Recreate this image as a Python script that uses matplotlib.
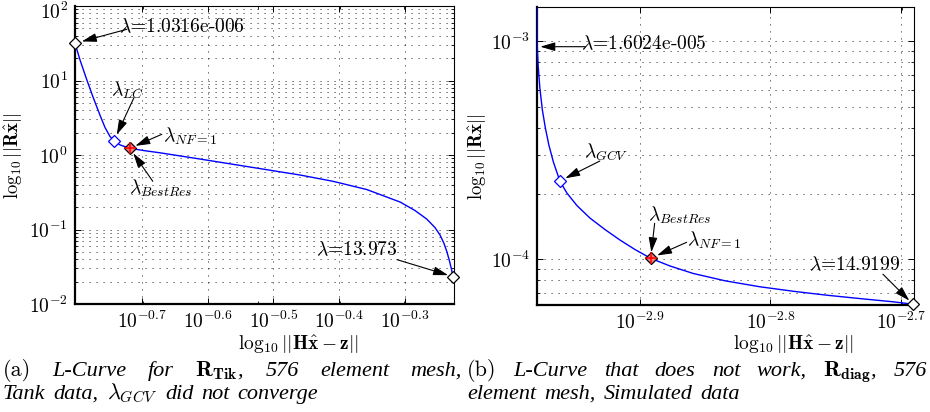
import matplotlib
matplotlib.use("Agg")
import matplotlib.pyplot as plt
from matplotlib.ticker import FixedLocator, FixedFormatter, NullFormatter
from matplotlib.transforms import ScaledTranslation

plt.rcParams["mathtext.fontset"] = "cm"
plt.rcParams["font.family"] = "serif"
plt.rcParams["font.serif"] = ["cmr10"]
plt.rcParams["axes.formatter.use_mathtext"] = True

# ---- (a) Tikhonov L-curve, tank data ----
tik_residual = [0.1578, 0.1606, 0.1644, 0.1682, 0.1722, 0.1753, 0.1784, 0.1809,
                0.1846, 0.1912, 0.2015, 0.2126, 0.2445, 0.2913, 0.3471, 0.3897,
                0.4385, 0.4929, 0.5194, 0.5411, 0.5570, 0.5670, 0.5750, 0.5810,
                0.5861, 0.5902, 0.5933]
tik_seminorm = [31.6, 18.85, 10.31, 5.91, 3.44, 2.34, 1.77, 1.56,
                1.37, 1.23, 1.142, 1.070, 0.883, 0.690, 0.539, 0.4436,
                0.3442, 0.2339, 0.1799, 0.1383, 0.1064, 0.0844, 0.0649, 0.0499,
                0.0378, 0.0295, 0.0233]
tik_idx = {"start": 0, "lc": 7, "nf": 9, "best": 9, "end": 26}
tik_xlim = (0.1578, 0.5955)
tik_ylim = (1e-2, 1e2)
tik_xticks = [-0.7, -0.6, -0.5, -0.4, -0.3]
tik_yticks = [-2, -1, 0, 1, 2]

# ---- (b) diagonal prior L-curve, simulated data ----
diag_residual = [1.0500e-3, 1.0503e-3, 1.0520e-3, 1.0551e-3, 1.0598e-3, 1.0654e-3,
                 1.0720e-3, 1.0806e-3, 1.0930e-3, 1.1066e-3, 1.1263e-3, 1.1524e-3,
                 1.1834e-3, 1.2152e-3, 1.2478e-3, 1.2829e-3, 1.3273e-3, 1.3830e-3,
                 1.4626e-3, 1.5558e-3, 1.6550e-3, 1.7500e-3, 1.8560e-3, 1.9672e-3,
                 2.0378e-3]
diag_seminorm = [1.60e-3, 9.446e-4, 7.702e-4, 6.105e-4, 4.840e-4, 4.003e-4,
                 3.344e-4, 2.794e-4, 2.286e-4, 2.014e-4, 1.765e-4, 1.547e-4,
                 1.370e-4, 1.226e-4, 1.109e-4, 1.0106e-4, 9.318e-5, 8.608e-5,
                 7.969e-5, 7.479e-5, 7.117e-5, 6.844e-5, 6.603e-5, 6.383e-5,
                 6.223e-5]
diag_idx = {"start": 1, "gcv": 8, "nf": 15, "best": 15, "end": 24}
diag_xlim = (1.0498e-3, 2.0417e-3)
diag_ylim = (6.17e-5, 1.4366e-3)
diag_xticks = [-2.9, -2.8, -2.7]
diag_yticks = [-4, -3]

W, H = 930, 412
fig = plt.figure(figsize=(W / 100, H / 100), dpi=100)


def px_axes(x0, y0, x1, y1):
    return fig.add_axes([x0 / W, 1 - y1 / H, (x1 - x0) / W, (y1 - y0) / H])


ax1 = px_axes(75, 6, 454, 304)
ax2 = px_axes(537, 7, 914, 305)

GRID = dict(linestyle=(0, (1.2, 6.0)), color="k", linewidth=0.7, alpha=0.75)
LABEL_FS = 14


def style_axes(ax, xlim, ylim, xt, yt, xminor, yminor):
    ax.set_xscale("log")
    ax.set_yscale("log")
    ax.set_xlim(*xlim)
    ax.set_ylim(*ylim)
    ax.xaxis.set_major_locator(FixedLocator([10 ** v for v in xt]))
    ax.xaxis.set_major_formatter(FixedFormatter([r"$10^{%g}$" % v for v in xt]))
    ax.yaxis.set_major_locator(FixedLocator([10 ** v for v in yt]))
    ax.yaxis.set_major_formatter(FixedFormatter([r"$10^{%d}$" % v for v in yt]))
    ax.xaxis.set_minor_locator(FixedLocator(xminor))
    ax.yaxis.set_minor_locator(FixedLocator(yminor))
    ax.xaxis.set_minor_formatter(NullFormatter())
    ax.yaxis.set_minor_formatter(NullFormatter())
    ax.tick_params(which="both", direction="in", top=True, right=True,
                   labelsize=LABEL_FS, color="k")
    ax.tick_params(which="major", length=4, width=0.7)
    ax.tick_params(which="minor", length=2.2, width=0.6)
    ax.tick_params(axis="x", which="major", pad=5)
    ax.tick_params(axis="y", which="major", pad=5)
    ax.grid(True, which="major", axis="both", **GRID)
    ax.grid(True, which="minor", axis="y", **GRID)
    ax.set_axisbelow(True)
    for side in ("top", "right"):
        ax.spines[side].set_linewidth(0.8)
    for side in ("left", "bottom"):
        ax.spines[side].set_linewidth(1.6)


tik_yminor = [m * 10.0 ** e for e in range(-2, 2) for m in range(2, 10)]
style_axes(ax1, tik_xlim, tik_ylim, tik_xticks, tik_yticks,
           [0.2, 0.3, 0.4, 0.5], tik_yminor)
diag_yminor = [m * 10.0 ** e for e in (-5, -4) for m in range(2, 10)]
style_axes(ax2, diag_xlim, diag_ylim, diag_xticks, diag_yticks,
           [2e-3], diag_yminor)

# nudge the topmost label of panel (a) down so its exponent stays on the canvas
top_tick = ax1.yaxis.get_major_ticks()[-1]
top_tick.label1.set_transform(top_tick.label1.get_transform()
                              + ScaledTranslation(0, -3 / 72, fig.dpi_scale_trans))

CURVE = dict(color="#0000ff", linewidth=1.0, zorder=3, solid_joinstyle="round")
ax1.plot(tik_residual, tik_seminorm, **CURVE)
ax2.plot(diag_residual, diag_seminorm, **CURVE)


def diamond(ax, x, y, edge, face="none"):
    ax.plot([x], [y], marker="D", ms=6.6, mec=edge, mfc=face, mew=0.9,
            linestyle="none", zorder=5, clip_on=False)


def cross(ax, x, y):
    ax.plot([x], [y], marker="+", ms=8, mec="#ff0000", mew=1.1,
            linestyle="none", zorder=6, clip_on=False)


# markers on panel (a)
i = tik_idx
diamond(ax1, tik_residual[i["start"]], tik_seminorm[i["start"]], "k", "white")
diamond(ax1, tik_residual[i["lc"]], tik_seminorm[i["lc"]], "#0000ff", "white")
diamond(ax1, tik_residual[i["nf"]], tik_seminorm[i["nf"]], "k", "#f28080")
cross(ax1, tik_residual[i["best"]], tik_seminorm[i["best"]])
diamond(ax1, tik_residual[i["end"]], tik_seminorm[i["end"]], "k", "white")

# markers on panel (b)
j = diag_idx
diamond(ax2, diag_residual[j["gcv"]], diag_seminorm[j["gcv"]], "#0000ff", "white")
diamond(ax2, diag_residual[j["nf"]], diag_seminorm[j["nf"]], "k", "#f28080")
cross(ax2, diag_residual[j["best"]], diag_seminorm[j["best"]])
diamond(ax2, diag_residual[j["end"]], diag_seminorm[j["end"]], "k", "white")

ARROW = "-|>,head_length=0.75,head_width=0.22"


def callout(ax, xs, ys, k, text, text_off, tail_off, shrink_px):
    pt = (xs[k], ys[k])
    ax.annotate(text, xy=pt, xytext=text_off, textcoords="offset pixels",
                ha="center", va="center", fontsize=LABEL_FS, zorder=7,
                annotation_clip=False)
    ax.annotate("", xy=pt, xytext=tail_off, textcoords="offset pixels",
                annotation_clip=False, zorder=7,
                arrowprops=dict(arrowstyle=ARROW, mutation_scale=12, color="k",
                                lw=0.8, shrinkA=0, shrinkB=shrink_px * 0.72))


callout(ax1, tik_residual, tik_seminorm, i["start"], r"$\lambda$=1.0316e-006",
        (107, 16), (52, 14), 7)
callout(ax1, tik_residual, tik_seminorm, i["lc"], r"$\lambda_{LC}$",
        (14, 50), (20, 43), 6.5)
callout(ax1, tik_residual, tik_seminorm, i["nf"], r"$\lambda_{NF=1}$",
        (60, 12), (32, 14), 6)
callout(ax1, tik_residual, tik_seminorm, i["best"], r"$\lambda_{BestRes}$",
        (31, -40), (23, -33), 6)
callout(ax1, tik_residual, tik_seminorm, i["end"], r"$\lambda$=13.973",
        (-96, 27), (-56, 17), 5)

callout(ax2, diag_residual, diag_seminorm, j["start"], r"$\lambda$=1.6024e-005",
        (107, 3), (48, 0), 3)
callout(ax2, diag_residual, diag_seminorm, j["gcv"], r"$\lambda_{GCV}$",
        (46, 29), (40, 20), 6)
callout(ax2, diag_residual, diag_seminorm, j["best"], r"$\lambda_{BestRes}$",
        (29, 43), (4, 35), 6)
callout(ax2, diag_residual, diag_seminorm, j["nf"], r"$\lambda_{NF=1}$",
        (63, 18), (36, 16), 7)
callout(ax2, diag_residual, diag_seminorm, j["end"], r"$\lambda$=14.9199",
        (-58, 39), (-30, 30), 5)

# axis labels
ylab = r"$\log_{10}||\mathbf{R}\hat{\mathbf{x}}||$"
xlab = r"$\log_{10}||\mathbf{H}\hat{\mathbf{x}}-\mathbf{z}||$"
fig.text(14 / W, 1 - 156 / H, ylab, rotation=90, ha="center", va="center", fontsize=13.5)
fig.text(478 / W, 1 - 157 / H, ylab, rotation=90, ha="center", va="center", fontsize=13.5)
fig.text(298 / W, 1 - 345 / H, xlab, ha="center", va="center", fontsize=14)
fig.text(793 / W, 1 - 345 / H, xlab, ha="center", va="center", fontsize=14)

# captions
CAP_FS = 16
UP = dict(family="cmr10")
IT = dict(family="Liberation Serif", style="italic")


def caption_line(tokens, x0, x1, y, justify):
    renderer = fig.canvas.get_renderer()
    arts = [fig.text(0, 1 - y / H, s, fontsize=CAP_FS, ha="left", va="baseline", **kw)
            for s, kw in tokens]
    widths = [a.get_window_extent(renderer).width for a in arts]
    gap = (x1 - x0 - sum(widths)) / (len(arts) - 1) if justify else 8.0
    x = x0
    for a, w in zip(arts, widths):
        a.set_x(x / W)
        x += w + gap


caption_line([("(a)", UP), ("L-Curve", IT), ("for", IT),
              (r"$\mathbf{R}_{\mathbf{Tik}}$,", IT), ("576", IT),
              ("element", IT), ("mesh,", IT)], 3, 462, 376, True)
caption_line([("Tank", IT), ("data,", IT), (r"$\lambda_{GCV}$", IT), ("did", IT),
              ("not", IT), ("converge", IT)], 3, 345, 399, False)
caption_line([("(b)", UP), ("L-Curve", IT), ("that", IT), ("does", IT), ("not", IT),
              ("work,", IT), (r"$\mathbf{R}_{\mathbf{diag}}$,", IT), ("576", IT)],
             467, 927, 376, True)
caption_line([("element", IT), ("mesh,", IT), ("Simulated", IT), ("data", IT)],
             467, 735, 399, False)

fig.savefig("out.png", dpi=100)
